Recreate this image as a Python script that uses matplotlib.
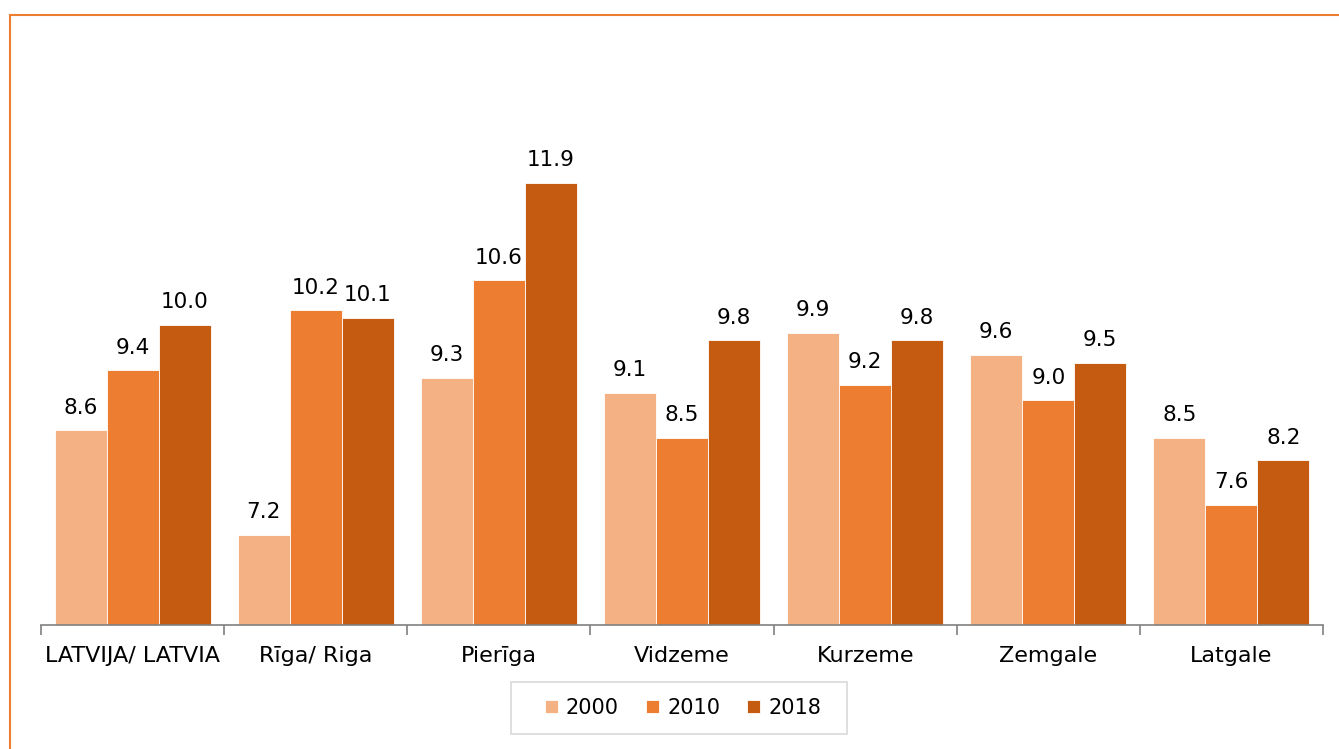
import matplotlib
matplotlib.use("Agg")
import matplotlib.pyplot as plt
import numpy as np
from matplotlib.patches import Rectangle

categories = ["LATVIJA/ LATVIA", "Rīga/ Riga", "Pierīga", "Vidzeme", "Kurzeme", "Zemgale", "Latgale"]
years = ["2000", "2010", "2018"]
v2000 = [8.6, 7.2, 9.3, 9.1, 9.9, 9.6, 8.5]
v2010 = [9.4, 10.2, 10.6, 8.5, 9.2, 9.0, 7.6]
v2018 = [10.0, 10.1, 11.9, 9.8, 9.8, 9.5, 8.2]
colors = ["#F4B183", "#ED7D31", "#C55A11"]

plt.rcParams['font.family'] = ['DejaVu Sans']
W, H = 1339, 749
fig = plt.figure(figsize=(W/100, H/100), dpi=100)

# outer border
fig.patches.append(Rectangle((9.5/W, -0.05), 1.2, 1 - 14.5/H + 0.05, transform=fig.transFigure,
                             fill=False, edgecolor="#ED7D31", linewidth=1.5, zorder=0))
# legend frame
fig.patches.append(Rectangle((511/W, (H-734)/H), (847-511)/W, 52/H, transform=fig.transFigure,
                             fill=False, edgecolor="#D9D9D9", linewidth=1.2, zorder=0))

ax = fig.add_axes([41/W, (H-625)/H, (1323-41)/W, (625-100)/H])
x = np.arange(len(categories))
bw = 0.284
series = [v2000, v2010, v2018]
for i, (vals, col, yr) in enumerate(zip(series, colors, years)):
    pos = x + (i-1)*bw
    ax.bar(pos, vals, width=bw, color=col, edgecolor="white", linewidth=0.6, label=yr)
    for p, v in zip(pos, vals):
        ax.annotate(f"{v:.1f}", (p, v), xytext=(0, 9), textcoords="offset points",
                    ha="center", va="bottom", fontsize=15.5, color="black")

ax.set_ylim(6, 13)
ax.set_xlim(-0.5, len(categories)-0.5)
for s in ["top", "right", "left"]:
    ax.spines[s].set_visible(False)
ax.spines["bottom"].set_color("#808080")
ax.spines["bottom"].set_linewidth(1.2)
ax.set_yticks([])
ax.set_xticks(x)
ax.set_xticklabels(categories, fontsize=16)
ax.tick_params(axis="x", length=0, pad=15)
ax.set_xticks(np.arange(-0.5, len(categories), 1.0), minor=True)
ax.tick_params(axis="x", which="minor", length=7, width=1.2, color="#808080")

leg = ax.legend(loc="center", bbox_to_anchor=(683/W, (H-708)/H), bbox_transform=fig.transFigure,
                ncol=3, frameon=False, fontsize=15, handlelength=0.62, handleheight=0.62,
                columnspacing=1.3, handletextpad=0.4, borderpad=0.0)

fig.savefig("out.png", dpi=100)
